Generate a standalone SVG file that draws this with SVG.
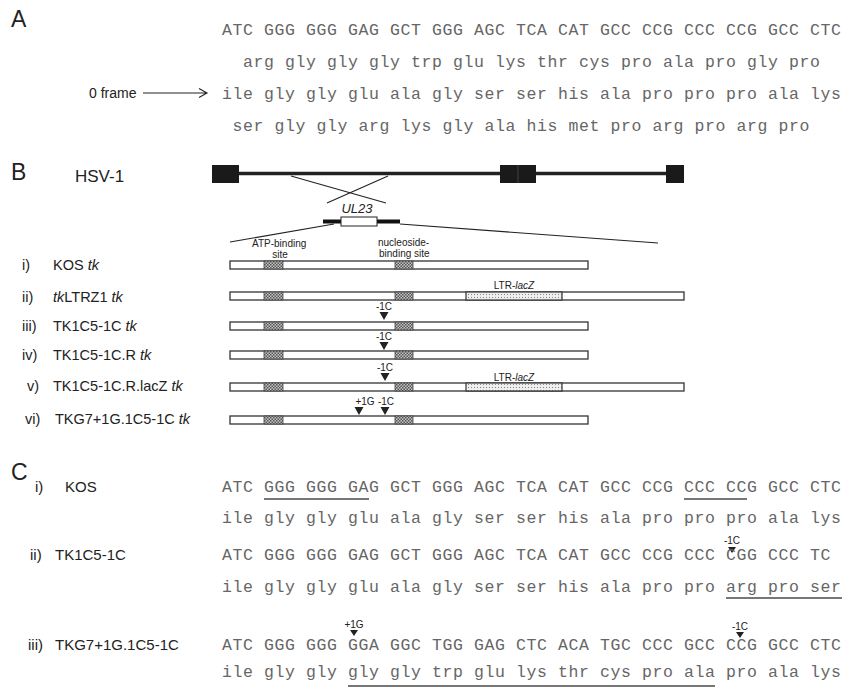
<svg xmlns="http://www.w3.org/2000/svg" width="844" height="689" viewBox="0 0 844 689">
<style>
.seq{font-family:"Liberation Mono","Courier New",monospace;font-size:16.5px;letter-spacing:0.6px;fill:#666}
.lab{font-family:"Liberation Sans",Arial,sans-serif;fill:#222}
.pan{font-size:23px}
.rl{font-size:14.5px}
.cl{font-size:15px}
.sm{font-size:10px}
.bar{fill:#fff;stroke:#333;stroke-width:1.3}
.hb{fill:url(#hatch);stroke:#444;stroke-width:0.8}
.lz{fill:url(#dots);stroke:#333;stroke-width:1.2}
.ul{stroke:#777;stroke-width:2}
.tri{fill:#222}
.thin{stroke:#222;stroke-width:1.1;fill:none}
</style>
<defs>
<pattern id="hatch" width="3" height="3" patternUnits="userSpaceOnUse"><rect width="3" height="3" fill="#c4c4c4"/><rect width="1.5" height="1.5" fill="#555"/><rect x="1.5" y="1.5" width="1.5" height="1.5" fill="#555"/></pattern>
<pattern id="dots" width="3" height="3" patternUnits="userSpaceOnUse"><rect width="3" height="3" fill="#eee"/><rect width="1" height="1" fill="#888"/></pattern>
</defs>

<g id="panelA">
<text class="lab pan" x="11" y="27">A</text>
<text class="seq" x="222" y="35">ATC GGG GGG GAG GCT GGG AGC TCA CAT GCC CCG CCC CCG GCC CTC</text>
<text class="seq" x="243" y="67">arg gly gly gly trp glu lys thr cys pro ala pro gly pro</text>
<text class="seq" x="222" y="99">ile gly gly glu ala gly ser ser his ala pro pro pro ala lys</text>
<text class="seq" x="232.5" y="131">ser gly gly arg lys gly ala his met pro arg pro arg pro</text>
<g id="frame0">
<text class="lab" x="89" y="98" font-size="14">0 frame</text>
<path class="thin" d="M143 93H207M199 88.5L207 93L199 97.5"/>
</g>
</g>

<g id="panelB">
<text class="lab pan" x="11" y="180">B</text>
<g id="hsv1">
<text class="lab" x="75" y="182" font-size="17">HSV-1</text>
<line x1="212" y1="173.5" x2="684" y2="173.5" stroke="#222" stroke-width="3.5"/>
<rect x="212" y="165" width="27" height="18" fill="#1a1a1a"/>
<rect x="500" y="165" width="36" height="18" fill="#1a1a1a"/>
<line x1="518" y1="165" x2="518" y2="183" stroke="#555" stroke-width="0.7"/>
<rect x="666" y="165" width="18" height="18" fill="#1a1a1a"/>
</g>
<g id="connectors">
<line class="thin" x1="291" y1="176" x2="386" y2="203"/>
<line class="thin" x1="388" y1="176" x2="327" y2="203"/>
<line class="thin" x1="334" y1="224" x2="230" y2="242"/>
<line class="thin" x1="400" y1="224" x2="658" y2="243"/>
</g>
<g id="ul23">
<text class="lab" x="357" y="213" font-size="13" font-style="italic" text-anchor="middle">UL23</text>
<line x1="323" y1="221.5" x2="400" y2="221.5" stroke="#111" stroke-width="4"/>
<rect x="341" y="217" width="36" height="9" fill="#fff" stroke="#222" stroke-width="1"/>
</g>
<g id="sites">
<text class="lab sm" x="252" y="247">ATP-binding</text>
<text class="lab sm" x="280" y="258" text-anchor="middle">site</text>
<text class="lab sm" x="378" y="246">nucleoside-</text>
<text class="lab sm" x="379" y="257">binding site</text>
</g>

<g id="rowB1">
<text class="lab rl" x="22" y="270">i)</text>
<text class="lab rl" x="53" y="270">KOS <tspan font-style="italic">tk</tspan></text>
<rect class="bar" x="230" y="261" width="358" height="8"/>
<rect class="hb" x="264" y="261" width="19" height="8"/>
<rect class="hb" x="395" y="261" width="18" height="8"/>
</g>
<g id="rowB2">
<text class="lab rl" x="22" y="302">ii)</text>
<text class="lab rl" x="53" y="302"><tspan font-style="italic">tk</tspan>LTRZ1 <tspan font-style="italic">tk</tspan></text>
<rect class="bar" x="230" y="292" width="454" height="8"/>
<rect class="hb" x="264" y="292" width="19" height="8"/>
<rect class="hb" x="395" y="292" width="18" height="8"/>
<rect class="lz" x="466" y="292" width="96" height="8"/>
<text class="lab sm" x="514" y="289" text-anchor="middle">LTR-<tspan font-style="italic">lacZ</tspan></text>
</g>
<g id="rowB3">
<text class="lab rl" x="22" y="331">iii)</text>
<text class="lab rl" x="53" y="331">TK1C5-1C <tspan font-style="italic">tk</tspan></text>
<rect class="bar" x="230" y="322" width="358" height="8"/>
<rect class="hb" x="264" y="322" width="19" height="8"/>
<rect class="hb" x="395" y="322" width="18" height="8"/>
<text class="lab sm" x="384" y="310" text-anchor="middle">-1C</text>
<polygon class="tri" points="379.5,312 388.5,312 384,320"/>
</g>
<g id="rowB4">
<text class="lab rl" x="22" y="360">iv)</text>
<text class="lab rl" x="53" y="360">TK1C5-1C.R <tspan font-style="italic">tk</tspan></text>
<rect class="bar" x="230" y="351" width="358" height="8"/>
<rect class="hb" x="264" y="351" width="19" height="8"/>
<rect class="hb" x="395" y="351" width="18" height="8"/>
<text class="lab sm" x="384" y="340" text-anchor="middle">-1C</text>
<polygon class="tri" points="379.5,342 388.5,342 384,350"/>
</g>
<g id="rowB5">
<text class="lab rl" x="27" y="391">v)</text>
<text class="lab rl" x="53" y="391">TK1C5-1C.R.lacZ <tspan font-style="italic">tk</tspan></text>
<rect class="bar" x="230" y="383" width="454" height="8"/>
<rect class="hb" x="264" y="383" width="19" height="8"/>
<rect class="hb" x="395" y="383" width="18" height="8"/>
<rect class="lz" x="466" y="383" width="96" height="8"/>
<text class="lab sm" x="514" y="381" text-anchor="middle">LTR-<tspan font-style="italic">lacZ</tspan></text>
<text class="lab sm" x="385" y="371" text-anchor="middle">-1C</text>
<polygon class="tri" points="380.5,373 389.5,373 385,381"/>
</g>
<g id="rowB6">
<text class="lab rl" x="25" y="424">vi)</text>
<text class="lab rl" x="55" y="424">TKG7+1G.1C5-1C <tspan font-style="italic">tk</tspan></text>
<rect class="bar" x="230" y="416" width="358" height="8"/>
<rect class="hb" x="264" y="416" width="19" height="8"/>
<rect class="hb" x="395" y="416" width="18" height="8"/>
<text class="lab sm" x="365" y="405" text-anchor="middle">+1G</text>
<text class="lab sm" x="386" y="405" text-anchor="middle">-1C</text>
<polygon class="tri" points="354.5,407 363.5,407 359,415"/>
<polygon class="tri" points="380.5,407 389.5,407 385,415"/>
</g>
</g>

<g id="panelC">
<text class="lab pan" x="11" y="480">C</text>
<g id="rowC1">
<text class="lab cl" x="35" y="492">i)</text>
<text class="lab cl" x="65" y="492">KOS</text>
<text class="seq" x="222" y="492">ATC GGG GGG GAG GCT GGG AGC TCA CAT GCC CCG CCC CCG GCC CTC</text>
<line class="ul" x1="264" y1="499" x2="369" y2="499"/>
<line class="ul" x1="684" y1="499" x2="747" y2="499"/>
<text class="seq" x="222" y="523">ile gly gly glu ala gly ser ser his ala pro pro pro ala lys</text>
</g>
<g id="rowC2">
<text class="lab cl" x="30" y="560">ii)</text>
<text class="lab cl" x="55" y="560">TK1C5-1C</text>
<text class="lab sm" x="732" y="544" text-anchor="middle" font-size="9">-1C</text>
<polygon class="tri" points="728,547 736,547 732,553"/>
<text class="seq" x="222" y="560">ATC GGG GGG GAG GCT GGG AGC TCA CAT GCC CCG CCC CGG CCC TC</text>
<text class="seq" x="222" y="592">ile gly gly glu ala gly ser ser his ala pro pro arg pro ser</text>
<line class="ul" x1="726" y1="598" x2="842" y2="598"/>
</g>
<g id="rowC3">
<text class="lab cl" x="28" y="650">iii)</text>
<text class="lab cl" x="55" y="650">TKG7+1G.1C5-1C</text>
<text class="lab sm" x="354" y="628" text-anchor="middle" font-size="9">+1G</text>
<polygon class="tri" points="350,630 358,630 354,636"/>
<text class="lab sm" x="740" y="630" text-anchor="middle" font-size="9">-1C</text>
<polygon class="tri" points="736,632 744,632 740,638"/>
<text class="seq" x="222" y="650">ATC GGG GGG GGA GGC TGG GAG CTC ACA TGC CCC GCC CCG GCC CTC</text>
<text class="seq" x="222" y="677">ile gly gly gly gly trp glu lys thr cys pro ala pro ala lys</text>
<line class="ul" x1="348" y1="686" x2="715" y2="686"/>
</g>
</g>
</svg>
